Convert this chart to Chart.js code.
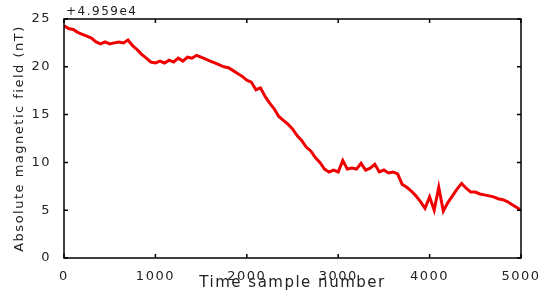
<!DOCTYPE html>
<html>
<head>
<meta charset="utf-8">
<script src="https://cdn.jsdelivr.net/npm/chart.js@4/dist/chart.umd.min.js"></script>
<style>
  html, body { margin: 0; padding: 0; background: #fff; }
</style>
</head>
<body>
<canvas id="fieldChart" width="545" height="300"></canvas>
<script>
// sample index (every 50 samples) and field offset from 4.959e4 nT
const samples = [
  0, 50, 100, 150, 200, 250, 300, 350, 400, 450,
  500, 550, 600, 650, 700, 750, 800, 850, 900, 950,
  1000, 1050, 1100, 1150, 1200, 1250, 1300, 1350, 1400, 1450,
  1500, 1550, 1600, 1650, 1700, 1750, 1800, 1850, 1900, 1950,
  2000, 2050, 2100, 2150, 2200, 2250, 2300, 2350, 2400, 2450,
  2500, 2550, 2600, 2650, 2700, 2750, 2800, 2850, 2900, 2950,
  3000, 3050, 3100, 3150, 3200, 3250, 3300, 3350, 3400, 3450,
  3500, 3550, 3600, 3650, 3700, 3750, 3800, 3850, 3900, 3950,
  4000, 4050, 4100, 4150, 4200, 4250, 4300, 4350, 4400, 4450,
  4500, 4550, 4600, 4650, 4700, 4750, 4800, 4850, 4900, 4950,
  5000
];
const fieldOffset = [
  24.3, 24.0, 23.9, 23.6, 23.4, 23.2, 23.0, 22.6, 22.4, 22.6,
  22.4, 22.5, 22.6, 22.5, 22.8, 22.2, 21.8, 21.3, 20.9, 20.5,
  20.4, 20.6, 20.4, 20.7, 20.5, 20.9, 20.6, 21.0, 20.9, 21.2,
  21.0, 20.8, 20.6, 20.4, 20.2, 20.0, 19.9, 19.6, 19.3, 19.0,
  18.6, 18.4, 17.6, 17.8, 16.9, 16.2, 15.6, 14.8, 14.4, 14.0,
  13.5, 12.8, 12.3, 11.6, 11.2, 10.5, 10.0, 9.3, 9.0, 9.2,
  9.0, 10.2, 9.3, 9.4, 9.3, 9.9, 9.2, 9.4, 9.8, 9.0,
  9.2, 8.9, 9.0, 8.8, 7.7, 7.4, 7.0, 6.5, 5.9, 5.2,
  6.4, 5.0, 7.4, 4.9, 5.8, 6.5, 7.2, 7.8, 7.3, 6.9,
  6.9, 6.7, 6.6, 6.5, 6.4, 6.2, 6.1, 5.9, 5.6, 5.3,
  5.0
];
const xTicks = [0, 1000, 2000, 3000, 4000, 5000];
const yTicks = [0, 5, 10, 15, 20, 25];
const offsetLabel = '+4.959e4';

const fontFamily = '"DejaVu Sans", sans-serif';

// matplotlib style frame with inward ticks and the offset text
const framePlugin = {
  id: 'frame',
  beforeDraw(chart) {
    // the reference text is a bit stretched sideways
    chart.ctx.letterSpacing = '1.5px';
  },
  afterDraw(chart) {
    const { ctx, chartArea: a, scales } = chart;
    ctx.save();
    ctx.strokeStyle = '#000';
    ctx.lineWidth = 1.5;
    ctx.strokeRect(a.left, a.top, a.right - a.left, a.bottom - a.top);
    ctx.beginPath();
    xTicks.forEach(v => {
      const x = scales.x.getPixelForValue(v);
      ctx.moveTo(x, a.bottom); ctx.lineTo(x, a.bottom - 4);
      ctx.moveTo(x, a.top); ctx.lineTo(x, a.top + 4);
    });
    yTicks.forEach(v => {
      const y = scales.y.getPixelForValue(v);
      ctx.moveTo(a.left, y); ctx.lineTo(a.left + 4, y);
      ctx.moveTo(a.right, y); ctx.lineTo(a.right - 4, y);
    });
    ctx.stroke();
    ctx.fillStyle = '#222';
    ctx.font = '12px ' + fontFamily;
    ctx.textAlign = 'left';
    ctx.textBaseline = 'bottom';
    ctx.fillText(offsetLabel, a.left + 2, a.top - 1);
    ctx.restore();
  }
};

new Chart(document.getElementById('fieldChart'), {
  type: 'line',
  data: {
    datasets: [{
      data: samples.map((s, i) => ({ x: s, y: fieldOffset[i] })),
      borderColor: '#f00000',
      borderWidth: 3,
      pointRadius: 0,
      tension: 0,
      fill: false
    }]
  },
  options: {
    responsive: false,
    animation: false,
    layout: { padding: { top: 19, right: 24, left: 0, bottom: 0 } },
    plugins: {
      legend: { display: false },
      tooltip: { enabled: false }
    },
    scales: {
      x: {
        type: 'linear',
        min: 0,
        max: 5000,
        grid: { display: false },
        border: { display: false },
        afterBuildTicks: scale => { scale.ticks = xTicks.map(v => ({ value: v })); },
        afterFit: scale => { scale.height = 42; },
        ticks: {
          color: '#222',
          font: { family: fontFamily, size: 13 },
          padding: 3,
          maxRotation: 0,
          callback: v => String(v)
        },
        title: {
          display: true,
          text: 'Time sample number',
          color: '#222',
          font: { family: fontFamily, size: 15 },
          padding: { top: 0, bottom: 8 }
        }
      },
      y: {
        min: 0,
        max: 25,
        grid: { display: false },
        border: { display: false },
        afterBuildTicks: scale => { scale.ticks = yTicks.map(v => ({ value: v })); },
        afterFit: scale => { scale.width = 64; },
        ticks: {
          color: '#222',
          font: { family: fontFamily, size: 13 },
          padding: 5,
          callback: v => String(v)
        },
        title: {
          display: true,
          text: 'Absolute magnetic field (nT)',
          color: '#222',
          font: { family: fontFamily, size: 13 },
          padding: { top: 12, bottom: 0 }
        }
      }
    }
  },
  plugins: [framePlugin]
});
</script>
</body>
</html>
